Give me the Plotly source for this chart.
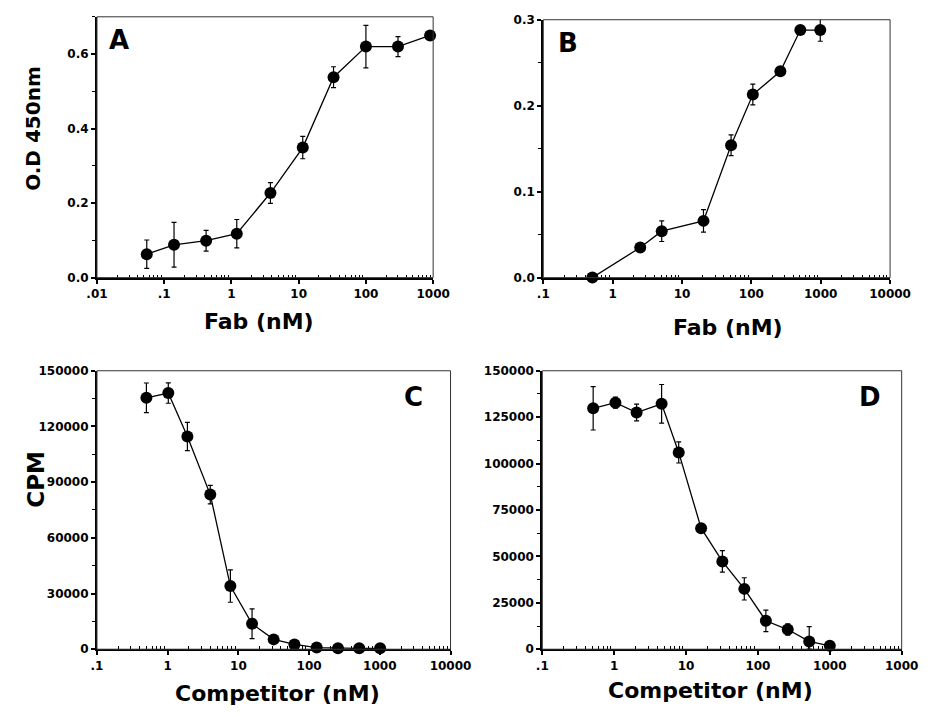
import plotly.graph_objects as go

# ---------------- data ----------------
a_x = [0.055, 0.14, 0.42, 1.2, 3.8, 11.5, 33, 100, 300, 900]
a_y = [0.063, 0.088, 0.099, 0.118, 0.227, 0.349, 0.538, 0.620, 0.620, 0.650]
a_err = [0.038, 0.060, 0.028, 0.038, 0.028, 0.030, 0.028, 0.057, 0.027, 0.004]

b_x = [0.51, 2.5, 5.1, 20.4, 51, 105, 262, 508, 985]
b_y = [0.0, 0.035, 0.054, 0.066, 0.154, 0.213, 0.240, 0.288, 0.288]
b_err = [0.0, 0.0, 0.012, 0.013, 0.012, 0.012, 0.0, 0.0, 0.013]

c_x = [0.50, 1.02, 1.9, 4.0, 7.7, 15.6, 31.5, 62, 128, 256, 511, 1009]
c_y = [135400, 138000, 114600, 83300, 34000, 13700, 5300, 2600, 900, 500, 500, 500]
c_err = [8000, 5500, 7600, 5000, 8700, 8000, 0, 0, 0, 0, 0, 0]

d_x = [0.51, 1.04, 2.05, 4.57, 7.9, 16.2, 32, 64.6, 129, 260, 517, 1000]
d_y = [129800, 132800, 127500, 132200, 106000, 65200, 47300, 32500, 15300, 10600, 4200, 1800]
d_err_up = [11700, 3000, 4500, 10400, 5700, 2000, 5800, 6000, 5800, 3000, 8000, 0]
d_err_dn = [11700, 3000, 4500, 10400, 5700, 2000, 5800, 6000, 5800, 3000, 4200, 0]

a_xticks = [0.01, 0.1, 1, 10, 100, 1000]
a_xtext = [".01", ".1", "1", "10", "100", "1000"]
bc_xticks = [0.1, 1, 10, 100, 1000, 10000]
bc_xtext = [".1", "1", "10", "100", "1000", "10000"]
d_xtext = [".1", "1", "10", "100", "1000", "1000"]

a_yticks = [0.0, 0.2, 0.4, 0.6]
a_ytext = ["0.0", "0.2", "0.4", "0.6"]
b_yticks = [0.0, 0.1, 0.2, 0.3]
b_ytext = ["0.0", "0.1", "0.2", "0.3"]
c_yticks = [0, 30000, 60000, 90000, 120000, 150000]
d_yticks = [0, 25000, 50000, 75000, 100000, 125000, 150000]

# --------------- figure ---------------
W, H = 942, 717
fig = go.Figure()

tickfont = dict(family="DejaVu Sans", size=12, color="black", weight="bold")

def px_dom(x0, x1):
    return [x0 / W, x1 / W]

def py_dom(top, bottom):
    return [1 - bottom / H, 1 - top / H]

panels = [
    dict(n="", x=a_x, y=a_y, eu=a_err, ed=a_err, xd=px_dom(89, 437), yd=py_dom(10, 276),
         xr=[-2, 3], xt=a_xticks, xtt=a_xtext, yr=[0, 0.7], yt=a_yticks, ytt=a_ytext, ymin=0.1),
    dict(n="2", x=b_x, y=b_y, eu=b_err, ed=b_err, xd=px_dom(551, 910), yd=py_dom(13, 276),
         xr=[-1, 4], xt=bc_xticks, xtt=bc_xtext, yr=[0, 0.3], yt=b_yticks, ytt=b_ytext, ymin=0.05),
    dict(n="3", x=c_x, y=c_y, eu=c_err, ed=c_err, xd=px_dom(89, 455), yd=py_dom(371, 655),
         xr=[-1, 4], xt=bc_xticks, xtt=bc_xtext, yr=[0, 150000], yt=c_yticks,
         ytt=[str(v) for v in c_yticks], ymin=15000),
    dict(n="4", x=d_x, y=d_y, eu=d_err_up, ed=d_err_dn, xd=px_dom(550, 922), yd=py_dom(371, 655),
         xr=[-1, 4], xt=bc_xticks, xtt=d_xtext, yr=[0, 150000], yt=d_yticks,
         ytt=[str(v) for v in d_yticks], ymin=12500),
]

for p in panels:
    n = p["n"]
    fig.add_trace(go.Scatter(
        x=p["x"], y=p["y"], mode="lines+markers",
        xaxis="x" + n, yaxis="y" + n,
        line=dict(color="black", width=1.3),
        marker=dict(color="black", size=12),
        error_y=dict(type="data", array=p["eu"], arrayminus=p["ed"], symmetric=False,
                     color="black", thickness=1.2, width=2.5),
        cliponaxis=False, showlegend=False,
    ))
    lo, hi = p["xr"]
    minor_vals = [m * 10 ** e for e in range(lo, hi) for m in range(2, 10)]
    fig.layout["xaxis" + n] = dict(
        type="log", range=p["xr"], domain=p["xd"], anchor="y" + n,
        tickmode="array", tickvals=p["xt"], ticktext=p["xtt"],
        ticks="outside", ticklen=4, tickwidth=1.5, tickcolor="black",
        minor=dict(tickmode="array", tickvals=minor_vals, ticks="inside", ticklen=3,
                   tickwidth=1, tickcolor="black", showgrid=False),
        showline=True, linecolor="black", linewidth=2,
        showgrid=False, zeroline=False, tickfont=tickfont, fixedrange=True,
    )
    fig.layout["yaxis" + n] = dict(
        range=p["yr"], domain=p["yd"], anchor="x" + n,
        tickmode="array", tickvals=p["yt"], ticktext=p["ytt"],
        ticks="outside", ticklen=4, tickwidth=1.5, tickcolor="black",
        minor=dict(dtick=p["ymin"], ticks="outside", ticklen=3, tickwidth=1,
                   tickcolor="black", showgrid=False),
        showline=True, linecolor="black", linewidth=2,
        showgrid=False, zeroline=False, tickfont=tickfont, fixedrange=True,
    )
    fig.add_shape(type="rect", xref=("x" + n) + " domain", yref=("y" + n) + " domain",
                  x0=0, x1=1, y0=0, y1=1, line=dict(color="#333333", width=1), layer="above")

titlefont = dict(family="DejaVu Sans", size=22, color="black", weight="bold")
letterfont = dict(family="DejaVu Sans", size=26, color="black", weight="bold")

def ann(text, x, y, font, angle=0):
    fig.add_annotation(text=text, x=x / W, y=1 - y / H, xref="paper", yref="paper",
                       showarrow=False, font=font, textangle=angle,
                       xanchor="center", yanchor="middle")

ann("Fab (nM)", 257, 321, titlefont)
ann("Fab (nM)", 742, 327, titlefont)
ann("Competitor (nM)", 276, 700, titlefont)
ann("Competitor (nM)", 724, 697, titlefont)
ann("O.D 450nm", 22, 124, dict(family="DejaVu Sans", size=20, color="black", weight="bold"), -90)
ann("CPM", 25, 482, dict(family="DejaVu Sans", size=23, color="black", weight="bold"), -90)
ann("A", 112, 34, letterfont)
ann("B", 577, 37, letterfont)
ann("C", 417, 398, letterfont)
ann("D", 889, 398, letterfont)

fig.update_layout(
    width=W, height=H, margin=dict(l=0, r=0, t=0, b=0),
    paper_bgcolor="white", plot_bgcolor="white",
    font=dict(family="DejaVu Sans", color="black"),
)

fig.write_html("out.html")
